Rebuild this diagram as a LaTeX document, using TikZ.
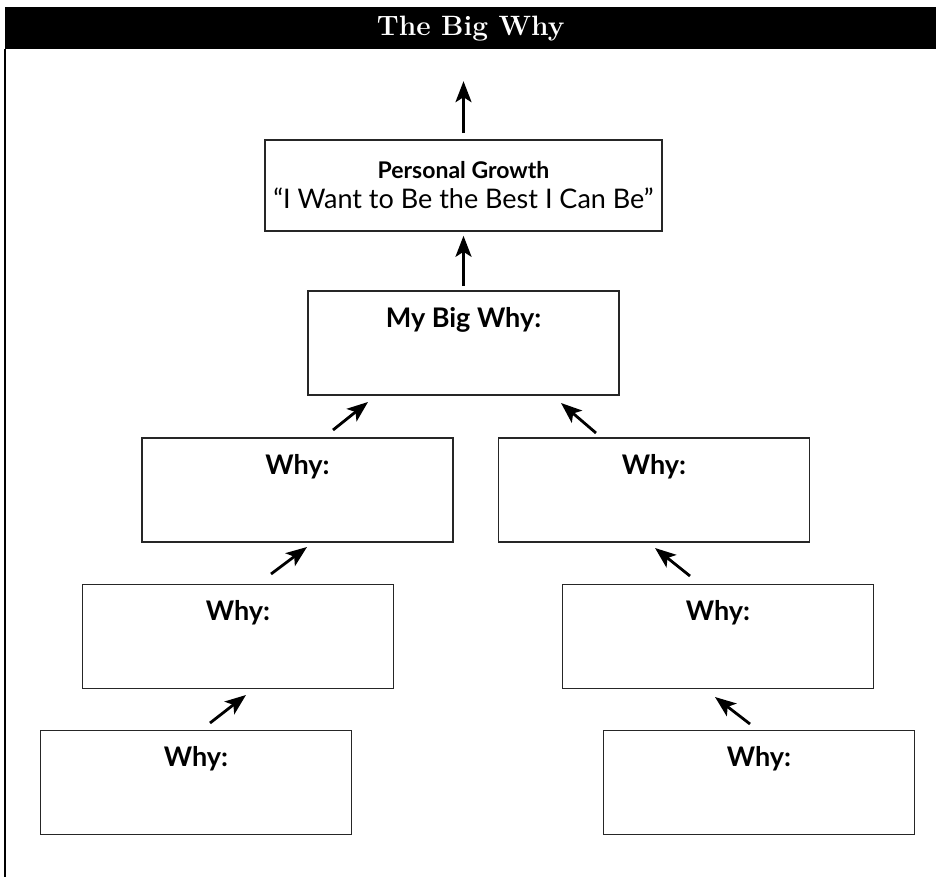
\documentclass[tikz,border=0pt]{standalone}
\usepackage{fontspec}
\newfontfamily\boxfont{Lato}
\usetikzlibrary{positioning, arrows.meta}

\begin{document}
\begin{tikzpicture}[x=1pt, y=-1pt,
    whybox/.style={draw=black!85, line width=1.6pt, inner sep=0pt, minimum width=311pt,
        font=\boxfont\bfseries\fontsize{27}{30}\selectfont, text height=36pt, text depth=68pt},
    up/.style={-{Stealth[length=21pt, width=16pt, inset=5pt]}, line width=2.8pt}]
    \useasboundingbox (0,0) rectangle (936,877);
    \node[fill=black, text=white, inner sep=0pt, anchor=north west, minimum width=931pt, minimum height=42pt,
        font=\bfseries\fontsize{28}{32}\selectfont] (head) at (5,7) {The Big Why};
    \draw[line width=1.3pt] (head.south west) -- (5,877);
    \node[draw=black!85, line width=1.6pt, minimum width=397pt, minimum height=91pt, inner sep=0pt, align=center,
        font=\boxfont\fontsize{27}{30}\selectfont] (growth) at (463.5,185.5)
        {{\bfseries\fontsize{23}{26}\selectfont Personal Growth}\\“I Want to Be the Best I Can Be”};
    \node[whybox] (big) at (463.5,343) {My Big Why:};
    \node[whybox] (why1l) at (297.5,490) {Why:};
    \node[whybox] (why1r) at (654,490) {Why:};
    \node[whybox] (why2l) at (238,636.5) {Why:};
    \node[whybox] (why2r) at (718,636.5) {Why:};
    \node[whybox] (why3l) at (196,782.5) {Why:};
    \node[whybox] (why3r) at (759,782.5) {Why:};
    \coordinate[above=58pt of growth.north] (top);
    \coordinate (s1l) at (333,430); \coordinate (e1l) at (368,402);
    \coordinate (s1r) at (596,433); \coordinate (e1r) at (561,403);
    \coordinate (s2l) at (271,574); \coordinate (e2l) at (307,547);
    \coordinate (s2r) at (690,576); \coordinate (e2r) at (655,548);
    \coordinate (s3l) at (210,723); \coordinate (e3l) at (246,695);
    \coordinate (s3r) at (750,724); \coordinate (e3r) at (715,697);
    \draw[up, shorten <=6pt] (growth.north) -- (top);
    \draw[up, shorten <=4pt, shorten >=4pt] (big.north) -- (growth.south);
    \draw[up] (s1l) -- (e1l);
    \draw[up] (s1r) -- (e1r);
    \draw[up] (s2l) -- (e2l);
    \draw[up] (s2r) -- (e2r);
    \draw[up] (s3l) -- (e3l);
    \draw[up] (s3r) -- (e3r);
\end{tikzpicture}
\end{document}
